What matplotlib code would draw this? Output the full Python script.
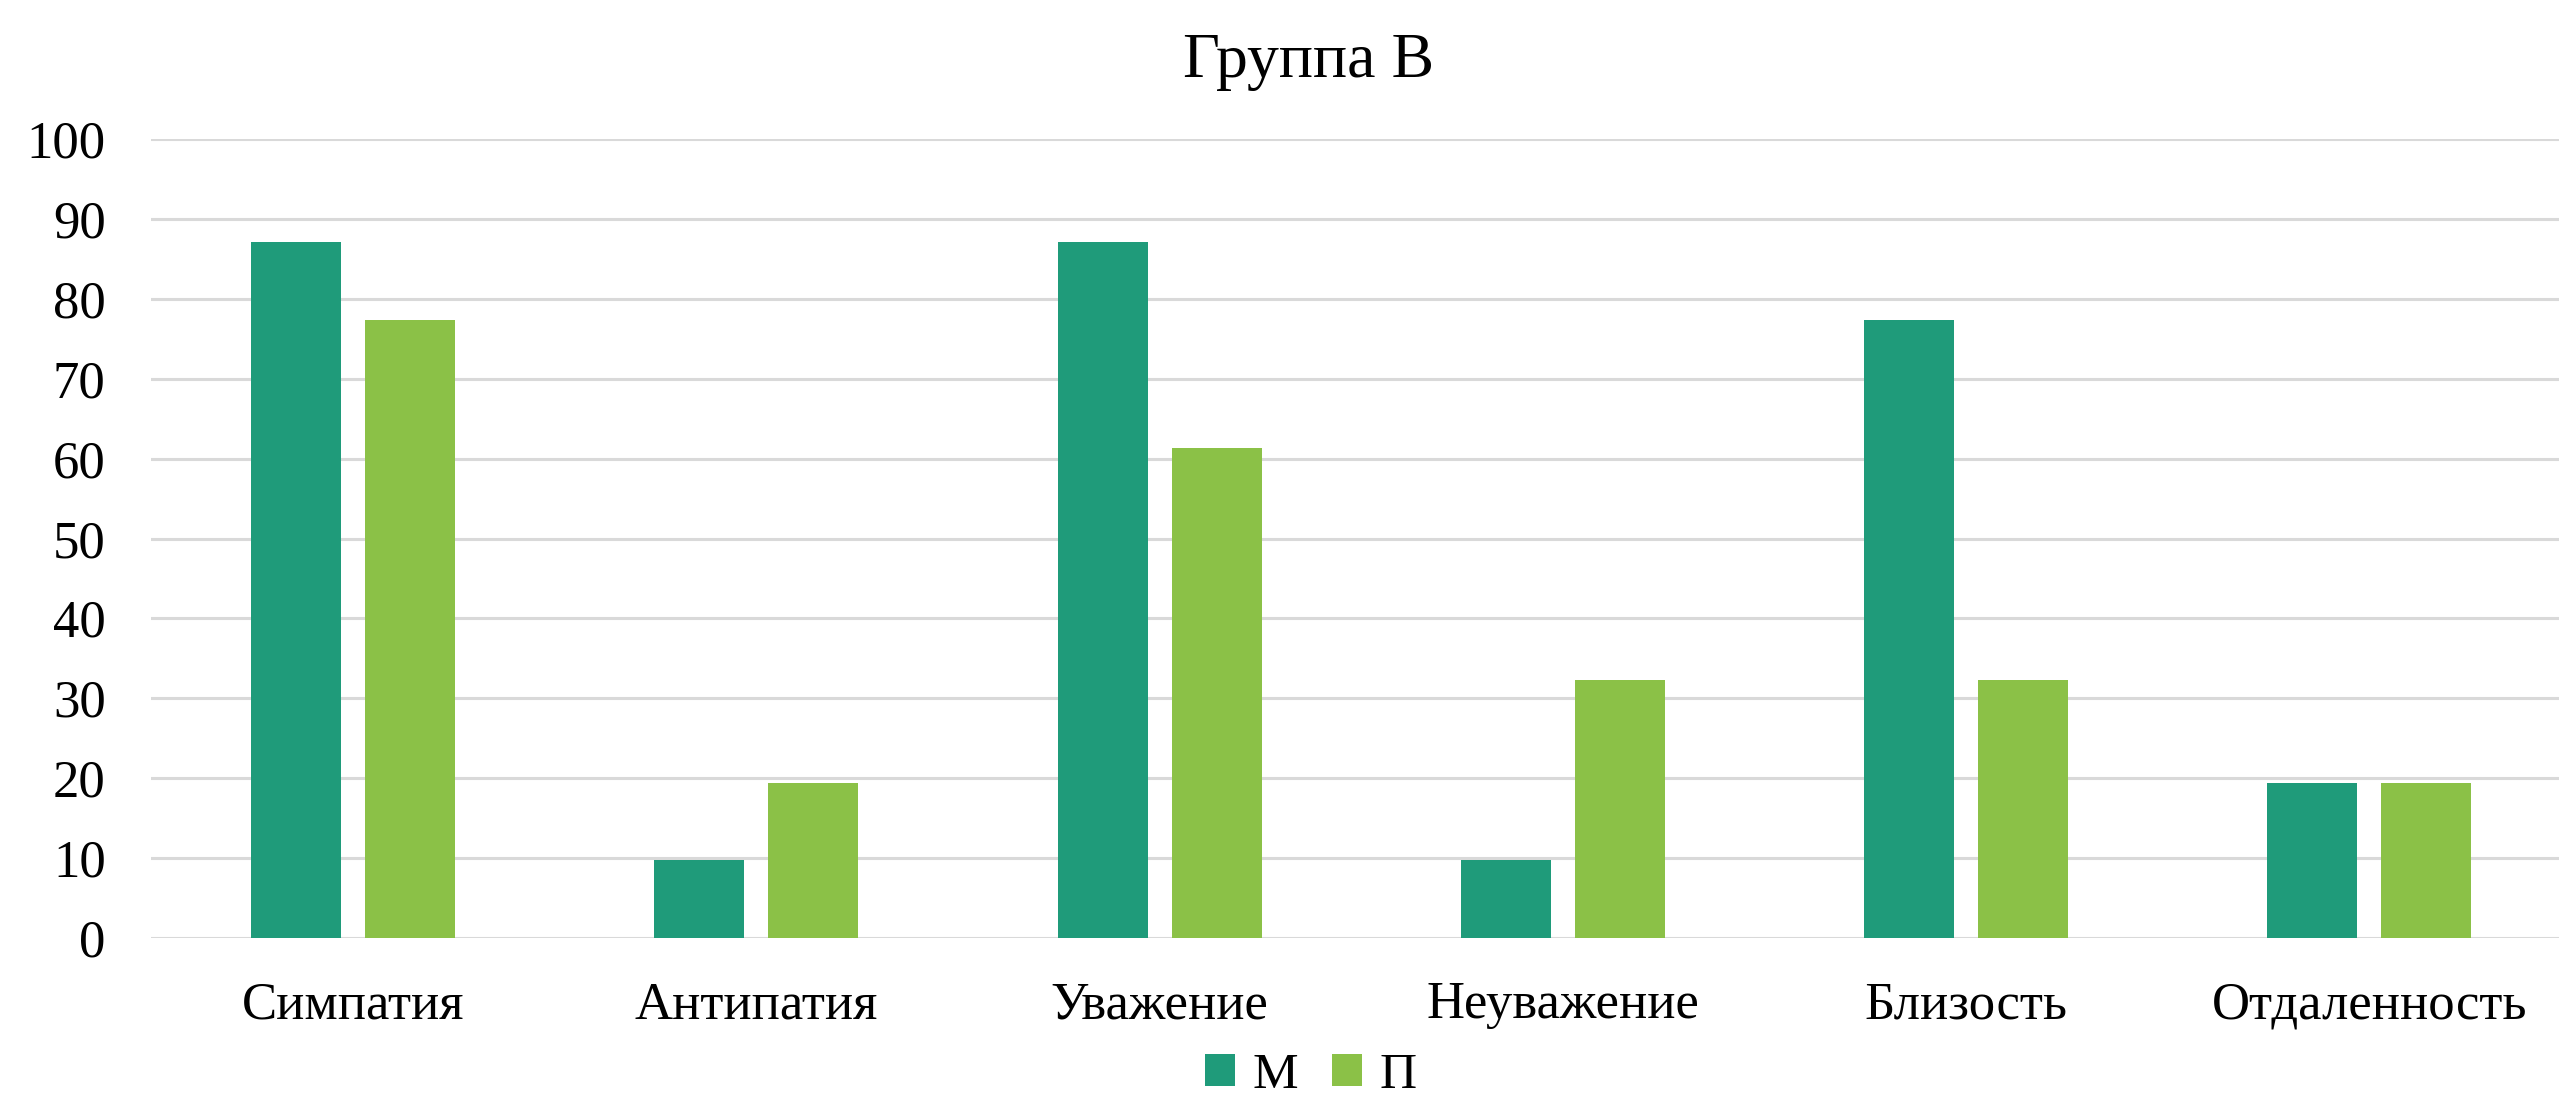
import numpy as np
import matplotlib.pyplot as plt

categories = ['Симпатия', 'Антипатия', 'Уважение', 'Неуважение', 'Близость', 'Отдаленность']
m_values = [87.1, 9.7, 87.1, 9.7, 77.4, 19.4]
p_values = [77.4, 19.4, 61.3, 32.3, 32.3, 19.4]
series_names = ['М', 'П']

plt.rcParams['font.family'] = ['Liberation Serif', 'DejaVu Serif']

fig = plt.figure(figsize=(25.59, 11.07), dpi=100)
# plot area runs slightly past the right edge, as in the source image
ax = fig.add_axes([0.0592, 0.1527, 0.9455, 0.7217])

x = np.arange(len(categories))
w = 0.2232
off = 0.1414
ax.bar(x - off, m_values, w, color='#1f9b7a', label=series_names[0], zorder=3)
ax.bar(x + off, p_values, w, color='#8bc147', label=series_names[1], zorder=3)

ax.set_xlim(-0.5, len(categories) - 0.5)
ax.set_ylim(0, 100)
ax.set_yticks(range(0, 101, 10))
ax.set_xticks(x)
ax.set_xticklabels(categories)
ax.tick_params(axis='y', length=0, pad=33, labelsize=38)
ax.tick_params(axis='x', length=0, pad=31, labelsize=38)
ax.grid(axis='y', color='#d9d9d9', linewidth=2.2, zorder=0)
for s in ax.spines.values():
    s.set_visible(False)

fig.text(0.5112, 0.944, 'Группа В', ha='center', va='center', fontsize=46)

fig.legend(*ax.get_legend_handles_labels(), loc='lower center', bbox_to_anchor=(0.5123, 0.0),
           ncol=2, frameon=False, fontsize=37, handlelength=0.58, handleheight=0.58,
           handletextpad=0.35, columnspacing=0.65, borderpad=0.05, borderaxespad=0.1)

fig.savefig('out.png', dpi=100)
